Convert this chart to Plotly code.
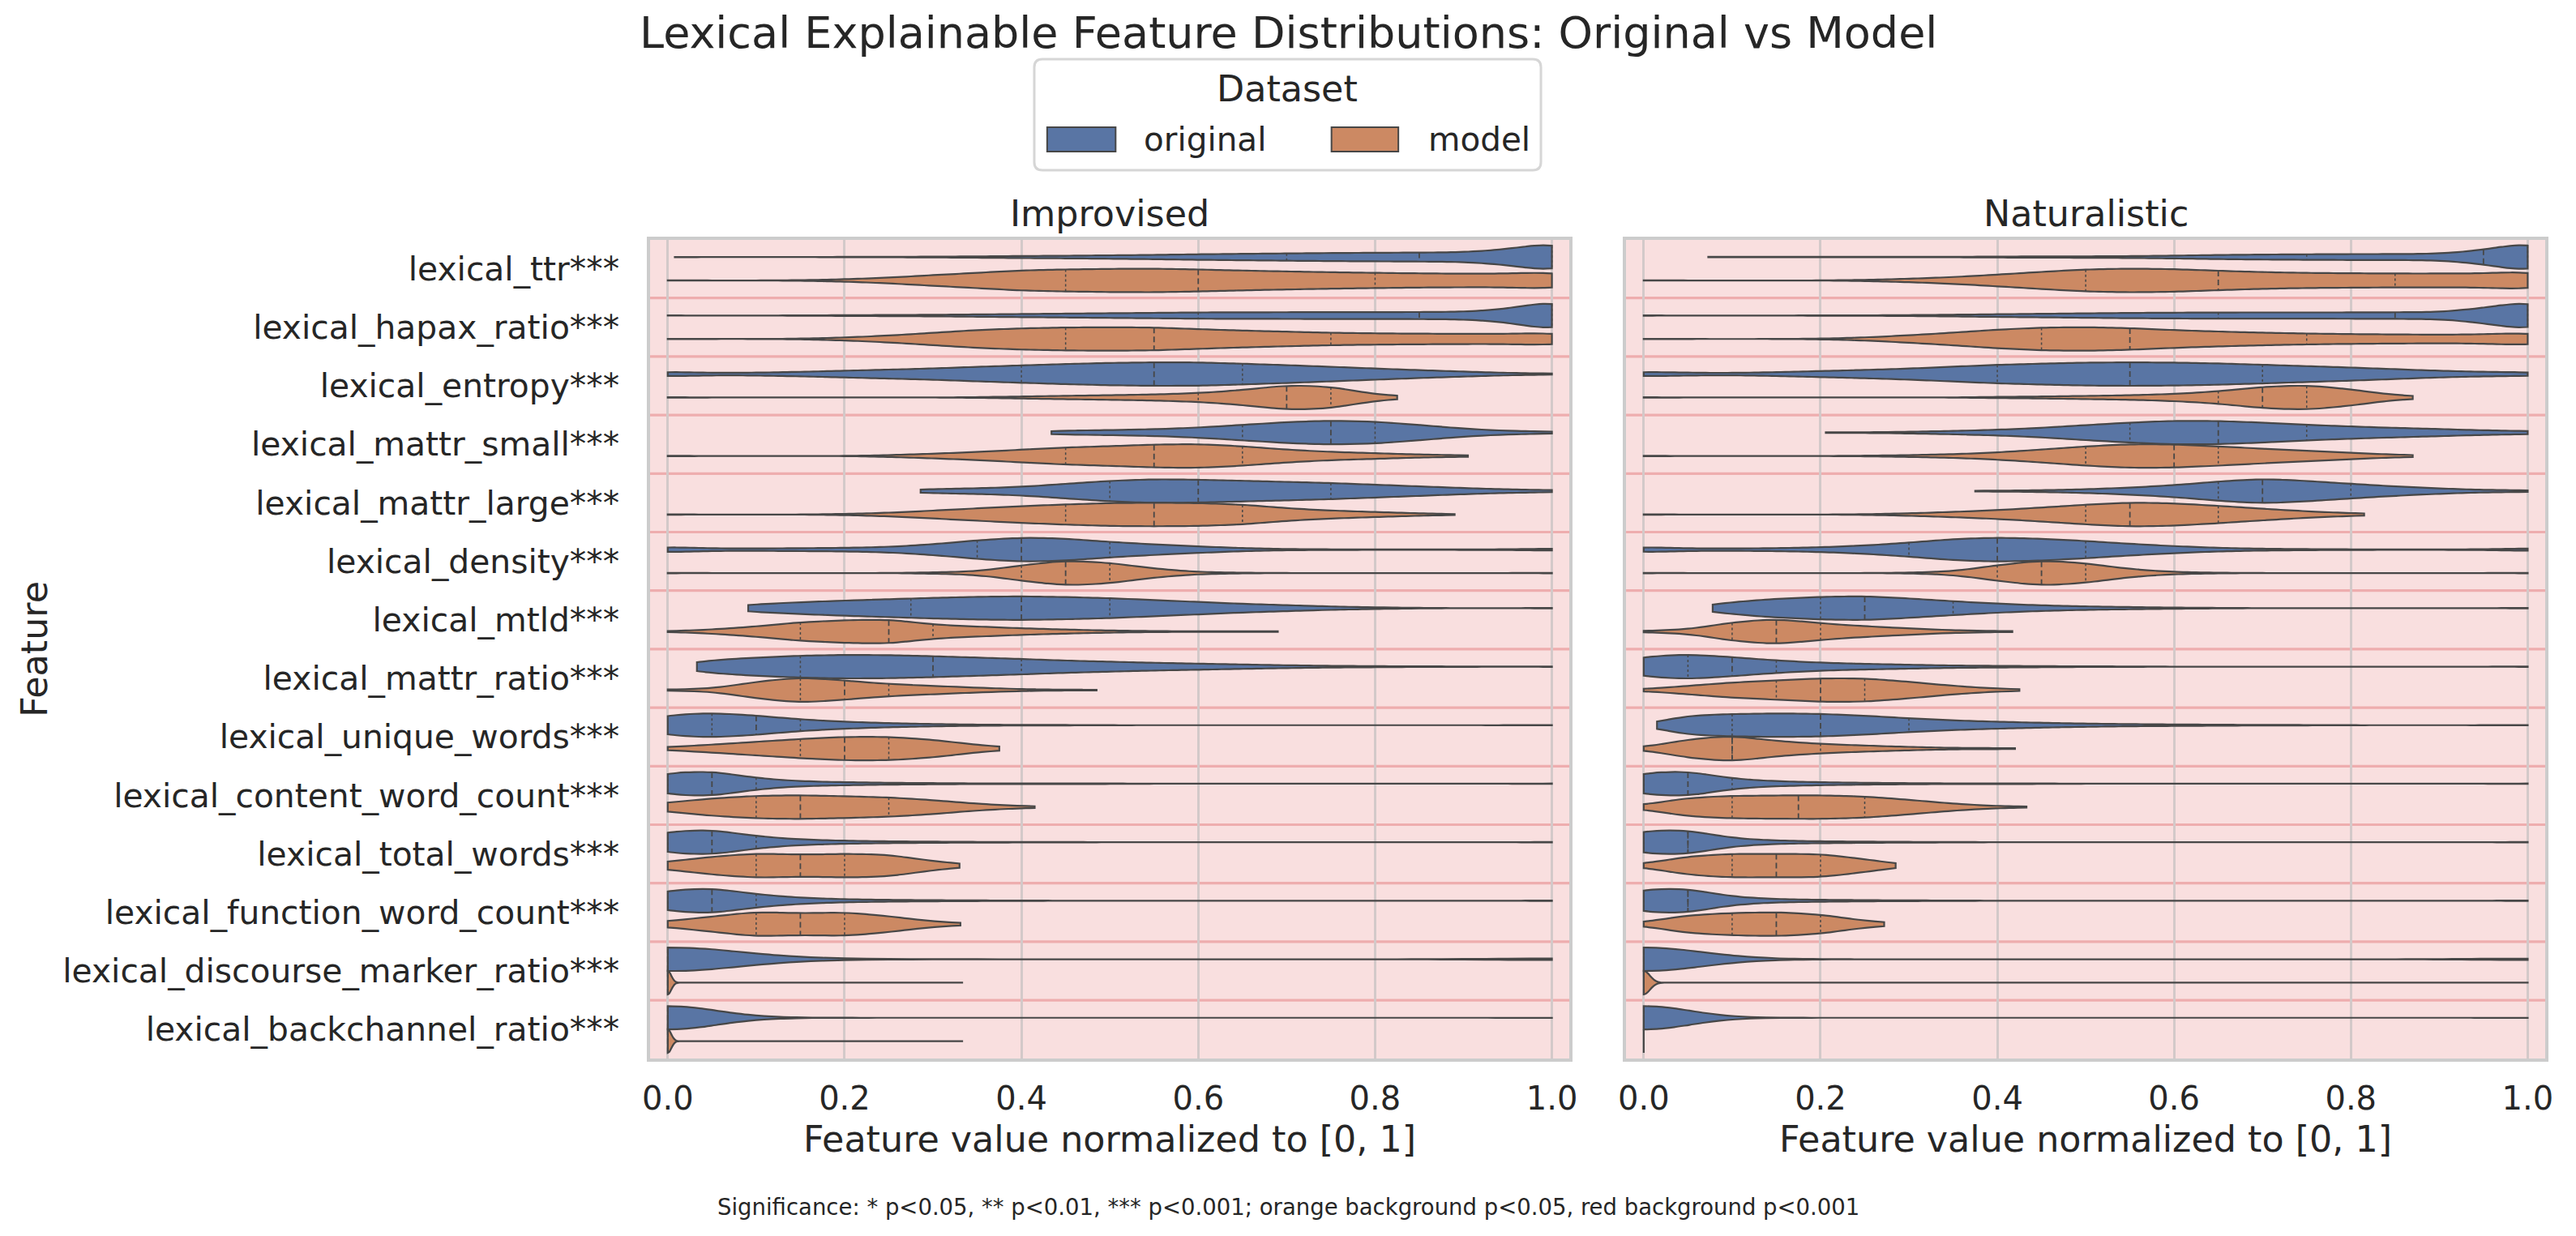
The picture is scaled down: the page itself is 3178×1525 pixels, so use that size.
import numpy as np
import plotly.graph_objects as go

# ---------------- data ----------------
FEATURES = ["lexical_ttr***", "lexical_hapax_ratio***", "lexical_entropy***",
            "lexical_mattr_small***", "lexical_mattr_large***", "lexical_density***",
            "lexical_mtld***", "lexical_mattr_ratio***", "lexical_unique_words***",
            "lexical_content_word_count***", "lexical_total_words***",
            "lexical_function_word_count***", "lexical_discourse_marker_ratio***",
            "lexical_backchannel_ratio***"]
PANELS = ["Improvised", "Naturalistic"]
DATASETS = ["original", "model"]
X_TICKS = [0.0, 0.2, 0.4, 0.6, 0.8, 1.0]
X_TICK_TEXT = ["0.0", "0.2", "0.4", "0.6", "0.8", "1.0"]

# value grid on which observation counts were estimated
GRID = [0.00, 0.05, 0.10, 0.15, 0.20, 0.25, 0.30, 0.35, 0.40, 0.45, 0.50,
        0.55, 0.60, 0.65, 0.70, 0.75, 0.80, 0.85, 0.90, 0.95, 1.00]

IMP_ORIG_COUNTS = [
    [0, 0, 0, 0, 1, 1, 2, 3, 5, 6, 8, 10, 13, 15, 17, 19, 20, 21, 22, 36, 70],
    [0, 0, 0, 1, 2, 3, 4, 6, 8, 10, 12, 14, 16, 17, 17, 18, 18, 18, 19, 33, 80],
    [8, 4, 5, 8, 12, 16, 20, 26, 31, 36, 40, 42, 42, 37, 32, 26, 20, 14, 9, 4, 1],
    [0, 0, 0, 0, 0, 0, 0, 0, 0, 7, 9, 12, 18, 28, 38, 44, 40, 28, 14, 6, 3],
    [0, 0, 0, 0, 0, 0, 7, 10, 15, 26, 37, 43, 41, 37, 33, 29, 23, 17, 11, 6, 3],
    [9, 4, 4, 5, 6, 9, 18, 32, 42, 38, 26, 18, 11, 5, 2, 1, 1, 1, 1, 1, 3],
    [0, 0, 14, 22, 28, 33, 38, 42, 44, 41, 37, 30, 23, 16, 11, 6, 3, 1, 0, 0, 0],
    [0, 24, 33, 40, 43, 42, 38, 33, 28, 22, 18, 14, 11, 8, 5, 3, 2, 1, 1, 0, 0],
    [36, 44, 34, 20, 12, 7, 4, 2, 1, 1, 0, 0, 0, 0, 0, 0, 0, 0, 0, 0, 0],
    [37, 43, 18, 8, 5, 3, 2, 1, 1, 1, 1, 0, 0, 0, 0, 0, 0, 0, 0, 0, 0],
    [37, 44, 20, 9, 5, 3, 2, 1, 1, 1, 0, 0, 0, 0, 0, 0, 0, 0, 0, 0, 0],
    [36, 45, 22, 10, 5, 3, 2, 1, 1, 0, 0, 0, 0, 0, 0, 0, 0, 0, 0, 0, 0],
    [560, 40, 25, 12, 5, 2, 1, 1, 0, 0, 0, 0, 0, 0, 0, 0, 0, 0, 0, 0, 38],
    [500, 5, 2, 1, 0, 0, 0, 0, 0, 0, 0, 0, 0, 0, 0, 0, 0, 0, 0, 0, 0],
]
IMP_ORIG_MIN = [0.008, 0, 0, 0.434, 0.286, 0, 0.091, 0.033, 0, 0, 0, 0, 0, 0]
IMP_ORIG_MAX = [1, 1, 1, 1, 1, 1, 1, 1, 1, 1, 1, 1, 1, 1]
IMP_ORIG_BW = [0.03, 0.03, 0.03, 0.03, 0.03, 0.03, 0.03, 0.03, 0.03, 0.03, 0.03, 0.03, 0.075, 0.055]

IMP_MODEL_COUNTS = [
    [0, 0, 0, 1, 4, 10, 19, 27, 36, 39, 41, 42, 39, 35, 32, 29, 27, 25, 24, 24, 30],
    [0, 0, 0, 1, 5, 12, 22, 32, 38, 41, 42, 41, 35, 30, 26, 22, 20, 19, 18, 18, 22],
    [0, 0, 0, 0, 0, 0, 0, 1, 3, 5, 7, 9, 13, 22, 38, 34, 8, 0, 0, 0, 0],
    [0, 0, 0, 0, 0, 3, 8, 14, 22, 30, 34, 40, 42, 34, 22, 14, 10, 5, 2, 0, 0],
    [0, 0, 0, 0, 2, 6, 14, 22, 30, 36, 41, 42, 41, 36, 22, 14, 9, 4, 0, 0, 0],
    [0, 0, 0, 0, 0, 0, 2, 5, 25, 42, 34, 14, 3, 1, 0, 0, 0, 0, 0, 0, 0],
    [0, 8, 20, 38, 45, 50, 27, 20, 13, 8, 4, 2, 1, 1, 0, 0, 0, 0, 0, 0, 0],
    [1, 4, 28, 44, 32, 20, 14, 8, 3, 1, 0, 0, 0, 0, 0, 0, 0, 0, 0, 0, 0],
    [4, 14, 24, 34, 42, 42, 32, 12, 0, 0, 0, 0, 0, 0, 0, 0, 0, 0, 0, 0, 0],
    [16, 32, 42, 44, 40, 36, 26, 12, 3, 0, 0, 0, 0, 0, 0, 0, 0, 0, 0, 0, 0],
    [12, 30, 42, 36, 40, 38, 14, 0, 0, 0, 0, 0, 0, 0, 0, 0, 0, 0, 0, 0, 0],
    [9, 24, 42, 34, 40, 26, 8, 0, 0, 0, 0, 0, 0, 0, 0, 0, 0, 0, 0, 0, 0],
    [400, 0, 0, 0, 0, 0, 0, 0, 0, 0, 0, 0, 0, 0, 0, 0, 0, 0, 0, 0, 0],
    [400, 0, 0, 0, 0, 0, 0, 0, 0, 0, 0, 0, 0, 0, 0, 0, 0, 0, 0, 0, 0],
]
IMP_MODEL_MIN = [0, 0, 0, 0, 0, 0, 0, 0, 0, 0, 0, 0, 0, 0]
IMP_MODEL_MAX = [1, 1, 0.825, 0.905, 0.89, 1, 0.69, 0.485, 0.375, 0.415, 0.33, 0.331, 0.333, 0.333]
IMP_MODEL_BW = [0.03, 0.03, 0.03, 0.03, 0.03, 0.03, 0.03, 0.03, 0.03, 0.03, 0.03, 0.03, 0.004, 0.004]

NAT_ORIG_COUNTS = [
    [0, 0, 1, 1, 1, 1, 1, 1, 2, 3, 3, 4, 6, 9, 11, 12, 13, 13, 14, 30, 67],
    [0, 0, 0, 0, 1, 1, 2, 4, 6, 8, 10, 12, 13, 14, 14, 14, 14, 15, 15, 33, 68],
    [8, 5, 4, 7, 11, 15, 20, 27, 34, 38, 42, 43, 42, 39, 34, 29, 24, 18, 12, 8, 6],
    [0, 0, 0, 0, 0, 1, 3, 6, 10, 17, 27, 36, 43, 42, 36, 28, 22, 17, 13, 8, 5],
    [0, 0, 0, 0, 0, 0, 0, 0, 1, 3, 6, 12, 20, 33, 43, 35, 25, 16, 9, 4, 2],
    [9, 4, 4, 5, 8, 14, 24, 37, 42, 38, 30, 20, 12, 6, 3, 2, 1, 1, 1, 1, 4],
    [0, 0, 22, 34, 41, 44, 35, 25, 16, 10, 6, 4, 2, 1, 0, 0, 0, 0, 0, 0, 0],
    [36, 45, 34, 22, 14, 10, 7, 4, 3, 2, 1, 1, 0, 0, 0, 0, 0, 0, 0, 0, 0],
    [0, 38, 42, 45, 43, 36, 26, 18, 13, 9, 6, 4, 3, 2, 1, 1, 0, 0, 0, 0, 0],
    [37, 44, 16, 8, 5, 3, 2, 1, 1, 1, 0, 0, 0, 0, 0, 0, 0, 0, 0, 0, 0],
    [38, 40, 12, 5, 3, 2, 1, 1, 0, 0, 0, 0, 0, 0, 0, 0, 0, 0, 0, 0, 0],
    [38, 40, 12, 5, 3, 2, 1, 1, 0, 0, 0, 0, 0, 0, 0, 0, 0, 0, 0, 0, 0],
    [500, 10, 5, 2, 1, 0, 0, 0, 0, 0, 0, 0, 0, 0, 0, 0, 0, 0, 0, 0, 28],
    [500, 0, 0, 0, 0, 0, 0, 0, 0, 0, 0, 0, 0, 0, 0, 0, 0, 0, 0, 0, 0],
]
NAT_ORIG_MIN = [0.073, 0, 0, 0.206, 0.375, 0, 0.078, 0, 0.015, 0, 0, 0, 0, 0]
NAT_ORIG_MAX = [1, 1, 1, 1, 1, 1, 1, 1, 1, 1, 1, 1, 1, 1]
NAT_ORIG_BW = [0.03, 0.03, 0.03, 0.03, 0.03, 0.03, 0.03, 0.03, 0.03, 0.03, 0.03, 0.03, 0.065, 0.052]

NAT_MODEL_COUNTS = [
    [0, 0, 0, 0, 0, 2, 6, 12, 21, 31, 40, 43, 41, 35, 30, 27, 26, 25, 25, 25, 33],
    [0, 0, 0, 0, 1, 5, 13, 22, 33, 40, 42, 38, 31, 26, 22, 19, 17, 16, 15, 16, 22],
    [0, 0, 0, 0, 0, 0, 0, 0, 2, 3, 5, 7, 11, 19, 34, 40, 26, 6, 0, 0, 0],
    [0, 0, 0, 0, 0, 1, 3, 6, 12, 22, 33, 41, 40, 33, 25, 18, 11, 4, 0, 0, 0],
    [0, 0, 0, 0, 0, 1, 4, 9, 15, 24, 34, 42, 39, 30, 20, 11, 4, 0, 0, 0, 0],
    [0, 0, 0, 0, 0, 0, 1, 5, 25, 42, 32, 12, 3, 1, 0, 0, 0, 0, 0, 0, 0],
    [1, 6, 30, 42, 26, 17, 10, 4, 1, 0, 0, 0, 0, 0, 0, 0, 0, 0, 0, 0, 0],
    [2, 14, 26, 32, 40, 40, 28, 14, 4, 0, 0, 0, 0, 0, 0, 0, 0, 0, 0, 0, 0],
    [2, 28, 40, 22, 14, 9, 5, 2, 1, 0, 0, 0, 0, 0, 0, 0, 0, 0, 0, 0, 0],
    [6, 34, 40, 41, 42, 38, 26, 12, 3, 0, 0, 0, 0, 0, 0, 0, 0, 0, 0, 0, 0],
    [4, 33, 42, 40, 42, 22, 0, 0, 0, 0, 0, 0, 0, 0, 0, 0, 0, 0, 0, 0, 0],
    [4, 32, 38, 42, 34, 10, 0, 0, 0, 0, 0, 0, 0, 0, 0, 0, 0, 0, 0, 0, 0],
    [400, 0, 0, 0, 0, 0, 0, 0, 0, 0, 0, 0, 0, 0, 0, 0, 0, 0, 0, 0, 0],
    [400, 0, 0, 0, 0, 0, 0, 0, 0, 0, 0, 0, 0, 0, 0, 0, 0, 0, 0, 0, 0],
]
NAT_MODEL_MIN = [0, 0, 0, 0, 0, 0, 0, 0, 0, 0, 0, 0, 0, 0]
NAT_MODEL_MAX = [1, 1, 0.87, 0.87, 0.815, 1, 0.417, 0.425, 0.42, 0.433, 0.285, 0.272, 1, 0]
NAT_MODEL_BW = [0.03, 0.03, 0.03, 0.03, 0.03, 0.03, 0.03, 0.03, 0.03, 0.03, 0.03, 0.03, 0.007, 0.03]

# ---------------- styling ----------------
W, H = 3178, 1525
FONT = "DejaVu Sans"
TXT = "#262626"
FILL = {"original": "#5975A4", "model": "#CC8963"}
EDGE = "#474747"
BG_ROW = "#F9DFDF"
SEP = "#EEADAE"
GRID_C = "#D3C9C9"
SPINE = "#CCCCCC"
VW = 0.4  # violin width in category units

X_DOM = [[797 / W, 1938.6 / W], [2008.7 / W, 3150 / W]]
Y_DOM = [1 - 1306.3 / H, 1 - 295.5 / H]


def px(x):
    return x / W


def py(y):
    return 1 - y / H


def make_samples(counts, vmin, vmax):
    g = np.array(GRID)
    c = np.array(counts)
    keep = (g >= vmin - 1e-9) & (g <= vmax + 1e-9) & (c > 0)
    s = np.repeat(g[keep], c[keep])
    return np.concatenate([[vmin], s, [vmax]]).astype(float)


def kde(xs, data, bw):
    z = (np.asarray(xs)[:, None] - data[None, :]) / bw
    return np.exp(-0.5 * z * z).sum(axis=1) / (len(data) * bw * np.sqrt(2 * np.pi))


def plotly_max_kde(data, bw):
    lo, hi = data.min(), data.max()
    dist = hi - lo
    n = int(np.ceil(dist / (bw / 3)))
    step = dist / n
    ts = lo + step * np.arange(n + 1)
    return kde(ts, data, bw).max()


SOURCES = {
    ("Improvised", "original"): (IMP_ORIG_COUNTS, IMP_ORIG_MIN, IMP_ORIG_MAX, IMP_ORIG_BW),
    ("Improvised", "model"): (IMP_MODEL_COUNTS, IMP_MODEL_MIN, IMP_MODEL_MAX, IMP_MODEL_BW),
    ("Naturalistic", "original"): (NAT_ORIG_COUNTS, NAT_ORIG_MIN, NAT_ORIG_MAX, NAT_ORIG_BW),
    ("Naturalistic", "model"): (NAT_MODEL_COUNTS, NAT_MODEL_MIN, NAT_MODEL_MAX, NAT_MODEL_BW),
}

fig = go.Figure()

for pi, panel in enumerate(PANELS):
    xa = "x" if pi == 0 else "x2"
    ya = "y" if pi == 0 else "y2"
    med_x, med_y, q_x, q_y = [], [], [], []
    for di, ds in enumerate(DATASETS):
        counts, mins, maxs, bws = SOURCES[(panel, ds)]
        for fi in range(len(FEATURES)):
            data = make_samples(counts[fi], mins[fi], maxs[fi])
            pos = fi - 0.2 + 0.4 * di
            bw = bws[fi]
            if data.max() - data.min() < 1e-12:
                # zero-variance distribution: drawn as a single line
                fig.add_trace(go.Scatter(
                    x=[data[0], data[0]], y=[pos - VW / 2, pos + VW / 2],
                    xaxis=xa, yaxis=ya, mode="lines",
                    line=dict(color=EDGE, width=2.2), hoverinfo="skip", showlegend=False))
                continue
            fig.add_trace(go.Violin(
                x=data, y0=pos, orientation="h", xaxis=xa, yaxis=ya,
                width=VW, bandwidth=bw, spanmode="hard", scalemode="width",
                scalegroup=f"{panel}-{ds}-{fi}", points=False,
                box=dict(visible=False), meanline=dict(visible=False),
                fillcolor=FILL[ds], opacity=1,
                line=dict(color=EDGE, width=2.2),
                hoverinfo="skip", showlegend=False, name=ds))
            mx = plotly_max_kde(data, bw)
            qs = np.percentile(data, [25, 50, 75])
            for k, q in enumerate(qs):
                h = (VW / 2) * kde([q], data, bw)[0] / mx
                if k == 1:
                    med_x += [q, q, None]
                    med_y += [pos - h, pos + h, None]
                else:
                    q_x += [q, q, None]
                    q_y += [pos - h, pos + h, None]
    fig.add_trace(go.Scatter(x=q_x, y=q_y, xaxis=xa, yaxis=ya, mode="lines",
                             line=dict(color=EDGE, width=1.5, dash="3px,3px"),
                             hoverinfo="skip", showlegend=False))
    fig.add_trace(go.Scatter(x=med_x, y=med_y, xaxis=xa, yaxis=ya, mode="lines",
                             line=dict(color=EDGE, width=1.8, dash="7px,4px"),
                             hoverinfo="skip", showlegend=False))

# ---------------- axes ----------------
xa_common = dict(range=[-0.02, 1.02], tickvals=X_TICKS, ticktext=X_TICK_TEXT,
                 tickfont=dict(family=FONT, size=40, color=TXT),
                 showgrid=True, gridcolor=GRID_C, gridwidth=2.8, zeroline=False,
                 showline=True, linecolor=SPINE, linewidth=3.5, mirror=True,
                 ticks="", ticklabelstandoff=11)
ya_common = dict(range=[13.5, -0.5], tickvals=list(range(len(FEATURES))), ticktext=FEATURES,
                 tickfont=dict(family=FONT, size=40.8, color=TXT), type="linear",
                 showgrid=False, zeroline=False, showline=True, linecolor=SPINE,
                 linewidth=3.5, mirror=True, ticks="", ticklabelstandoff=26)

fig.update_layout(
    width=W, height=H, margin=dict(l=0, r=0, t=0, b=0),
    paper_bgcolor="white", plot_bgcolor=BG_ROW, violinmode="overlay",
    showlegend=False, font=dict(family=FONT, color=TXT),
    xaxis=dict(domain=X_DOM[0], anchor="y", **xa_common),
    xaxis2=dict(domain=X_DOM[1], anchor="y2", **xa_common),
    yaxis=dict(domain=Y_DOM, anchor="x", **ya_common),
    yaxis2=dict(domain=Y_DOM, anchor="x2", showticklabels=False,
                **{k: v for k, v in ya_common.items() if k not in ("tickvals", "ticktext")}),
)

# row separators (significance background bands)
shapes = []
for pi in range(2):
    xr = "x domain" if pi == 0 else "x2 domain"
    yr = "y" if pi == 0 else "y2"
    for b in range(len(FEATURES) - 1):
        shapes.append(dict(type="line", xref=xr, yref=yr, x0=0, x1=1, y0=b + 0.5, y1=b + 0.5,
                           line=dict(color=SEP, width=3.2), layer="below"))

# legend box (rounded)
lx0, lx1, ly0, ly1, r = 1274, 1903, 73, 210, 10
path = (f"M {px(lx0 + r)},{py(ly0)} L {px(lx1 - r)},{py(ly0)} "
        f"Q {px(lx1)},{py(ly0)} {px(lx1)},{py(ly0 + r)} "
        f"L {px(lx1)},{py(ly1 - r)} Q {px(lx1)},{py(ly1)} {px(lx1 - r)},{py(ly1)} "
        f"L {px(lx0 + r)},{py(ly1)} Q {px(lx0)},{py(ly1)} {px(lx0)},{py(ly1 - r)} "
        f"L {px(lx0)},{py(ly0 + r)} Q {px(lx0)},{py(ly0)} {px(lx0 + r)},{py(ly0)} Z")
shapes.append(dict(type="path", xref="paper", yref="paper", path=path,
                   fillcolor="white", line=dict(color="#D6D6D6", width=3), layer="above"))
patch_x = {"original": (1290, 1375), "model": (1643, 1726)}
for ds in DATASETS:
    x0, x1 = patch_x[ds]
    shapes.append(dict(type="rect", xref="paper", yref="paper",
                       x0=px(x0), x1=px(x1), y0=py(187), y1=py(157),
                       fillcolor=FILL[ds], line=dict(color=EDGE, width=2), layer="above"))
fig.update_layout(shapes=shapes)

# ---------------- texts ----------------
ann = []


def add_text(text, x, y, size, xanchor="center", angle=0):
    ann.append(dict(text=text, x=px(x), y=py(y), xref="paper", yref="paper",
                    xanchor=xanchor, yanchor="middle", showarrow=False, textangle=angle,
                    font=dict(family=FONT, size=size, color=TXT)))


add_text("Lexical Explainable Feature Distributions: Original vs Model", 1589, 40, 54)
add_text("Dataset", 1588, 109, 44.4)
add_text("original", 1408, 172, 40.5, xanchor="left")
add_text("model", 1761, 172, 40.5, xanchor="left")
panel_cx = [(797 + 1938.6) / 2, (2008.7 + 3150) / 2]
for pi, panel in enumerate(PANELS):
    add_text(panel, panel_cx[pi], 264, 44.4)
    add_text("Feature value normalized to [0, 1]", panel_cx[pi], 1405, 44.4)
add_text("Feature", 32, 801, 44.4, angle=-90)
add_text("Significance: * p<0.05, ** p<0.01, *** p<0.001; orange background p<0.05, "
         "red background p<0.001", 1589, 1489, 27.5)
fig.update_layout(annotations=ann)

fig.write_html("out.html")
